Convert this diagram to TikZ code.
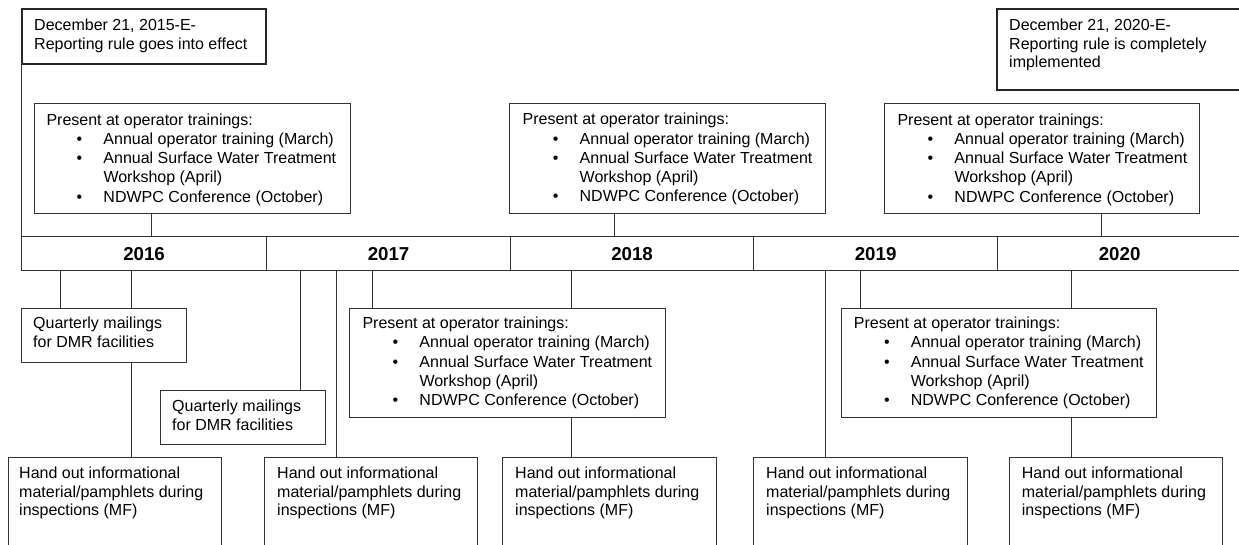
\documentclass[tikz,border=0pt]{standalone}
\usepackage{fontspec}
\setmainfont{Liberation Sans}
\definecolor{ln}{HTML}{333333}
\newcommand\trainlist{\parbox[t]{320pt}{Present at operator trainings:\\
\hspace*{30.2pt}\makebox[26.8pt][l]{\textbullet}Annual operator training (March)\\
\hspace*{30.2pt}\makebox[26.8pt][l]{\textbullet}Annual Surface Water Treatment\\
\hspace*{57pt}Workshop (April)\\
\hspace*{30.2pt}\makebox[26.8pt][l]{\textbullet}NDWPC Conference (October)}}
\newcommand\handout{\parbox[t]{220pt}{Hand out informational\\material/pamphlets during\\inspections (MF)}}
\newcommand\quarterly{\parbox[t]{180pt}{Quarterly mailings\\for DMR facilities}}
\begin{document}
\begin{tikzpicture}[x=1pt,y=-1pt,
  box/.style={draw=ln,line width=1pt,fill=white,inner sep=0pt,anchor=north west,rectangle},
  bigbox/.style={box,line width=2pt,draw=black!85},
  yearbox/.style={draw=ln,line width=1.2pt,inner sep=0pt,anchor=north west,rectangle,minimum height=34pt,font=\fontsize{18.7}{20}\selectfont\bfseries},
  txt/.style={anchor=base west,inner sep=0pt,font=\fontsize{16}{18.3}\selectfont},
  ltxt/.style={anchor=base west,inner sep=0pt,font=\fontsize{16}{19.2}\selectfont},
  qtxt/.style={anchor=base west,inner sep=0pt,font=\fontsize{16}{18.6}\selectfont},
  conn/.style={draw=ln,line width=1pt}]
\useasboundingbox (0,0) rectangle (1239,544);

% timeline
\node[yearbox,minimum width=245pt] (y2016) at (21,236) {2016};
\node[yearbox,minimum width=244pt] (y2017) at (266,236) {2017};
\node[yearbox,minimum width=243pt] (y2018) at (510,236) {2018};
\node[yearbox,minimum width=244pt] (y2019) at (753,236) {2019};
\node[yearbox,minimum width=244pt] (y2020) at (997,236) {2020};

% top boxes
\node[bigbox,minimum width=244pt,minimum height=55pt] (d1) at (21,8) {};
\node[txt] (d1t) at (34,30.7) {\parbox[t]{240pt}{December 21, 2015-E-\\Reporting rule goes into effect}};
\node[bigbox,minimum width=246pt,minimum height=81pt] (d2) at (996,8) {};
\node[txt] (d2t) at (1009,30.7) {\parbox[t]{230pt}{December 21, 2020-E-\\Reporting rule is completely\\implemented}};

% training boxes above
\node[box,minimum width=316pt,minimum height=110pt] (t1) at (34,103) {};
\node[ltxt] (t1t) at (46.3,125.3) {\trainlist};
\node[box,minimum width=316pt,minimum height=110pt] (t2) at (509,103) {};
\node[ltxt] (t2t) at (522.5,124.8) {\trainlist};
\node[box,minimum width=315pt,minimum height=110pt] (t3) at (884,103) {};
\node[ltxt] (t3t) at (897.3,125.3) {\trainlist};

% training boxes below
\node[box,minimum width=316pt,minimum height=109pt] (t4) at (349,308) {};
\node[ltxt] (t4t) at (362.3,328.7) {\trainlist};
\node[box,minimum width=315pt,minimum height=109pt] (t5) at (841,308) {};
\node[ltxt] (t5t) at (853.7,328.7) {\trainlist};

% quarterly mailings
\node[box,minimum width=165pt,minimum height=54pt] (q1) at (21,308) {};
\node[qtxt] (q1t) at (33,328.7) {\quarterly};
\node[box,minimum width=165pt,minimum height=54pt] (q2) at (160,390) {};
\node[qtxt] (q2t) at (172,411.7) {\quarterly};

% hand-out boxes
\node[box,minimum width=213pt,minimum height=110pt] (h1) at (8,457) {};
\node[txt] (h1t) at (19,478.7) {\handout};
\node[box,minimum width=213pt,minimum height=110pt] (h2) at (264,457) {};
\node[txt] (h2t) at (277,478.7) {\handout};
\node[box,minimum width=214pt,minimum height=110pt] (h3) at (502,457) {};
\node[txt] (h3t) at (515,478.7) {\handout};
\node[box,minimum width=214pt,minimum height=110pt] (h4) at (753,457) {};
\node[txt] (h4t) at (766,478.7) {\handout};
\node[box,minimum width=213pt,minimum height=110pt] (h5) at (1009,457) {};
\node[txt] (h5t) at (1021.7,478.7) {\handout};

% x positions of connectors
\coordinate (k1) at (151,0);
\coordinate (k2) at (614,0);
\coordinate (k3) at (1101,0);
\coordinate (k4) at (60,0);
\coordinate (k5) at (131,0);
\coordinate (k6) at (300,0);
\coordinate (k7) at (336,0);
\coordinate (k8) at (372,0);
\coordinate (k9) at (571,0);
\coordinate (k10) at (825,0);
\coordinate (k11) at (860,0);
\coordinate (k12) at (1071,0);

% connectors above the timeline
\draw[conn] (d1.south west) -- (y2016.north west);
\draw[conn] (t1.south -| k1) -- (y2016.north -| k1);
\draw[conn] (t2.south -| k2) -- (y2018.north -| k2);
\draw[conn] (t3.south -| k3) -- (y2020.north -| k3);

% connectors below the timeline
\draw[conn] (y2016.south -| k4) -- (q1.north -| k4);
\draw[conn] (y2016.south -| k5) -- (q1.north -| k5);
\draw[conn] (q1.south -| k5) -- (h1.north -| k5);
\draw[conn] (y2017.south -| k6) -- (q2.north -| k6);
\draw[conn] (y2017.south -| k7) -- (h2.north -| k7);
\draw[conn] (y2017.south -| k8) -- (t4.north -| k8);
\draw[conn] (y2018.south -| k9) -- (t4.north -| k9);
\draw[conn] (t4.south -| k9) -- (h3.north -| k9);
\draw[conn] (y2019.south -| k10) -- (h4.north -| k10);
\draw[conn] (y2019.south -| k11) -- (t5.north -| k11);
\draw[conn] (y2020.south -| k12) -- (t5.north -| k12);
\draw[conn] (t5.south -| k12) -- (h5.north -| k12);
\end{tikzpicture}
\end{document}
